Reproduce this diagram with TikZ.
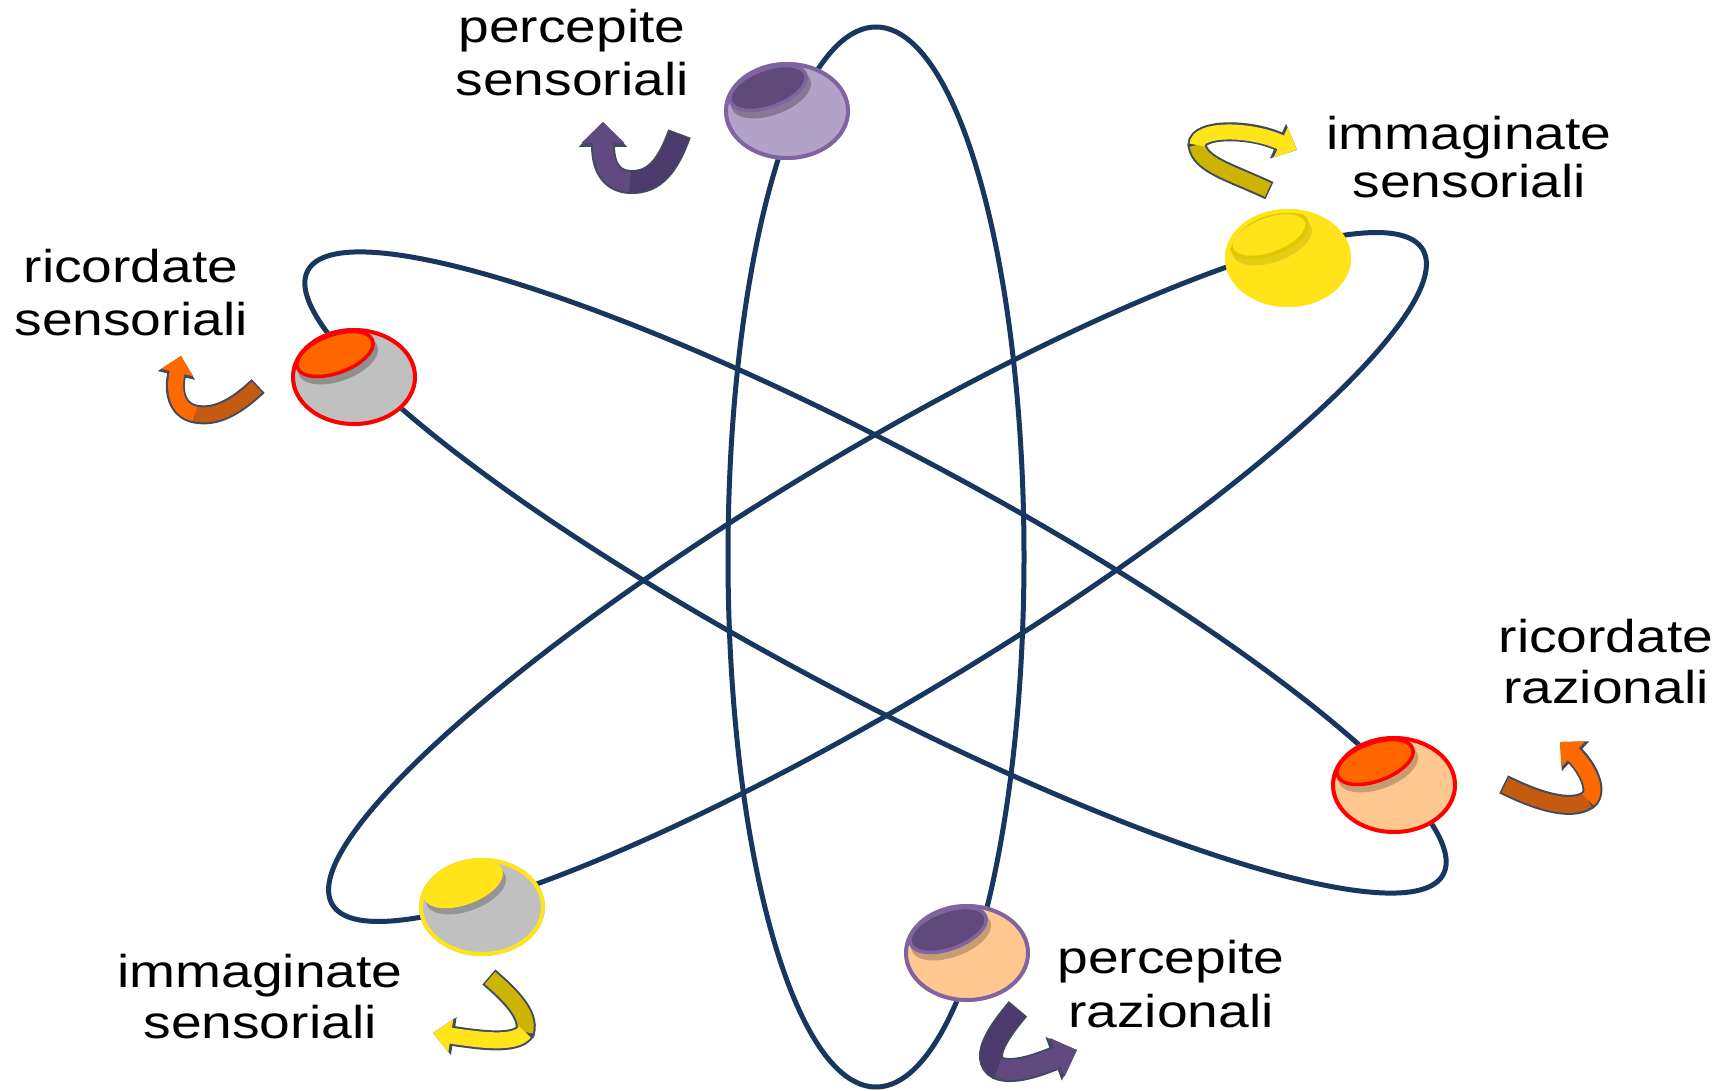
\documentclass[tikz,border=0pt]{standalone}
\usepackage{fontspec}
\newfontfamily\labfont[FakeStretch=1.2]{Liberation Sans}
\usetikzlibrary{shapes.geometric,arrows.meta}
\definecolor{navy}{RGB}{23,55,94}
\definecolor{purpB}{RGB}{128,100,162}
\definecolor{lilac}{RGB}{179,162,199}
\definecolor{plum}{RGB}{96,74,123}
\definecolor{yel}{RGB}{255,228,26}
\definecolor{yelline}{RGB}{222,200,0}
\definecolor{ballgray}{RGB}{192,192,192}
\definecolor{rred}{RGB}{255,0,0}
\definecolor{orng}{RGB}{255,102,0}
\definecolor{peach}{RGB}{255,200,145}
\definecolor{ayeldark}{RGB}{205,180,0}
\definecolor{ayel}{RGB}{255,228,26}
\definecolor{aorgdark}{RGB}{197,90,17}
\definecolor{aorg}{RGB}{255,106,0}
\definecolor{apdark}{RGB}{75,58,107}
\definecolor{aplight}{RGB}{96,74,128}
\definecolor{aout}{RGB}{64,74,96}
\newcommand\myball[8]{%
  \node[ellipse, minimum width=126pt, minimum height=98pt, inner sep=0pt, fill=#4] (#1) at (#2,#3) {};
  \coordinate (#1cap) at ([shift={(-19,-23)}]#1.center);
  \coordinate (#1sh) at ([shift={(-16,-17)}]#1.center);
  \begin{scope}
    \clip (#1.center) ellipse [x radius=63pt, y radius=49pt];
    \fill[black, opacity=#8, rotate around={20:(#1sh)}] (#1sh) ellipse [x radius=42pt, y radius=21pt];
    \filldraw[fill=#6, draw=#7, line width=3.5pt, rotate around={20:(#1cap)}] (#1cap) ellipse [x radius=40pt, y radius=19pt];
  \end{scope}
  \draw[#5, line width=4pt] (#1.center) ellipse [x radius=61pt, y radius=47pt];
}
\begin{document}
\begin{tikzpicture}[x=1pt,y=-1pt,
  orbit/.style={draw=navy, line width=5pt},
  lab/.style={font={\labfont\fontsize{46pt}{52pt}\selectfont}, inner sep=0pt, text=black, anchor=base},
  aoutl/.style={draw=aout, line cap=butt, shorten <=-1.5pt}]
\fill[white] (0,0) rectangle (1733,1091);
\useasboundingbox (0,0) rectangle (1733,1091);

% orbits
\coordinate (cv) at (876,557);
\coordinate (ca) at (875.5,572.5);
\coordinate (cb) at (877.5,577);
\draw[orbit] (cv) ellipse [x radius=148pt, y radius=530pt];
\draw[orbit, rotate around={-28:(ca)}] (ca) ellipse [x radius=643pt, y radius=122pt];
\draw[orbit, rotate around={31:(cb)}] (cb) ellipse [x radius=636pt, y radius=124pt];

% balls
\myball{ps}{787}{111}{lilac}{purpB}{plum}{purpB}{0.25}
\myball{ist}{1288}{258}{yel}{yel}{yel}{yelline}{0.10}
\myball{rs}{354}{377}{ballgray}{rred}{orng}{rred}{0.25}
\myball{rr}{1394}{785}{peach}{rred}{orng}{rred}{0.22}
\myball{isb}{482}{907}{ballgray}{yel}{yel}{yel}{0.22}
\myball{pr}{967}{953}{peach}{purpB}{plum}{purpB}{0.22}

% curved arrows
% PS (purple)
\draw[aoutl, line width=24pt, -{Triangle[width=47pt,length=25pt]}] (679,135) .. controls (668,165) and (655,183) .. (630,182) .. controls (610,181) and (603,165) .. (603,122);
\draw[apdark, line width=20pt] (679,135) .. controls (668,165) and (655,183) .. (630,182);
\draw[aplight, line width=20pt, -{Triangle[width=42pt,length=21pt]}] (630,182) .. controls (610,181) and (603,165) .. (603,122);
% IS top (yellow)
\draw[aoutl, line width=19pt, -{Triangle[width=37pt,length=21pt]}] (1268,190) .. controls (1230,172) and (1200,165) .. (1197,145) .. controls (1197,128) and (1250,128) .. (1297,150);
\draw[ayeldark, line width=15pt] (1268,190) .. controls (1230,172) and (1200,165) .. (1197,145);
\draw[ayel, line width=15pt, -{Triangle[width=32pt,length=18pt]}] (1197,145) .. controls (1197,128) and (1250,128) .. (1297,150);
% RS (orange)
\draw[aoutl, line width=19pt, -{Triangle[width=37pt,length=20pt]}] (257,387) .. controls (235,408) and (215,418) .. (195,414) .. controls (176,410) and (173,390) .. (181,356);
\draw[aorgdark, line width=15pt] (257,387) .. controls (235,408) and (215,418) .. (195,414);
\draw[aorg, line width=15pt, -{Triangle[width=32pt,length=17pt]}] (195,414) .. controls (176,410) and (173,390) .. (181,356);
% RR (orange)
\draw[aoutl, line width=20pt, -{Triangle[width=39pt,length=21pt]}] (1505,785) .. controls (1535,800) and (1570,812) .. (1588,800) .. controls (1600,790) and (1585,765) .. (1560,742);
\draw[aorgdark, line width=16pt] (1505,785) .. controls (1535,800) and (1570,812) .. (1588,800);
\draw[aorg, line width=16pt, -{Triangle[width=34pt,length=18pt]}] (1588,800) .. controls (1600,790) and (1585,765) .. (1560,742);
% IS bottom (yellow)
\draw[aoutl, line width=20pt, -{Triangle[width=37pt,length=21pt]}] (490,978) .. controls (510,995) and (530,1015) .. (525,1032) .. controls (515,1045) and (480,1040) .. (433,1033);
\draw[ayeldark, line width=16pt] (490,978) .. controls (510,995) and (530,1015) .. (525,1032);
\draw[ayel, line width=16pt, -{Triangle[width=32pt,length=18pt]}] (525,1032) .. controls (515,1045) and (480,1040) .. (433,1033);
% PR (purple)
\draw[aoutl, line width=24pt, -{Triangle[width=45pt,length=25pt]}] (1017,1010) .. controls (1000,1030) and (980,1058) .. (998,1068) .. controls (1015,1075) and (1045,1062) .. (1077,1050);
\draw[apdark, line width=20pt] (1017,1010) .. controls (1000,1030) and (980,1058) .. (998,1068);
\draw[aplight, line width=20pt, -{Triangle[width=40pt,length=21pt]}] (998,1068) .. controls (1015,1075) and (1045,1062) .. (1077,1050);

% labels
\node[lab] (ps1) at (572,43) {percepite};
\node[lab] (ps2) at (572,96) {sensoriali};
\node[lab] (ist1) at (1469,150) {immaginate};
\node[lab] (ist2) at (1469,198) {sensoriali};
\node[lab] (rs1) at (131,283) {ricordate};
\node[lab] (rs2) at (131,336) {sensoriali};
\node[lab] (rr1) at (1606,652) {ricordate};
\node[lab] (rr2) at (1606,703) {razionali};
\node[lab] (isb1) at (260,987) {immaginate};
\node[lab] (isb2) at (260,1038) {sensoriali};
\node[lab] (pr1) at (1171,973) {percepite};
\node[lab] (pr2) at (1171,1027) {razionali};
\end{tikzpicture}
\end{document}
